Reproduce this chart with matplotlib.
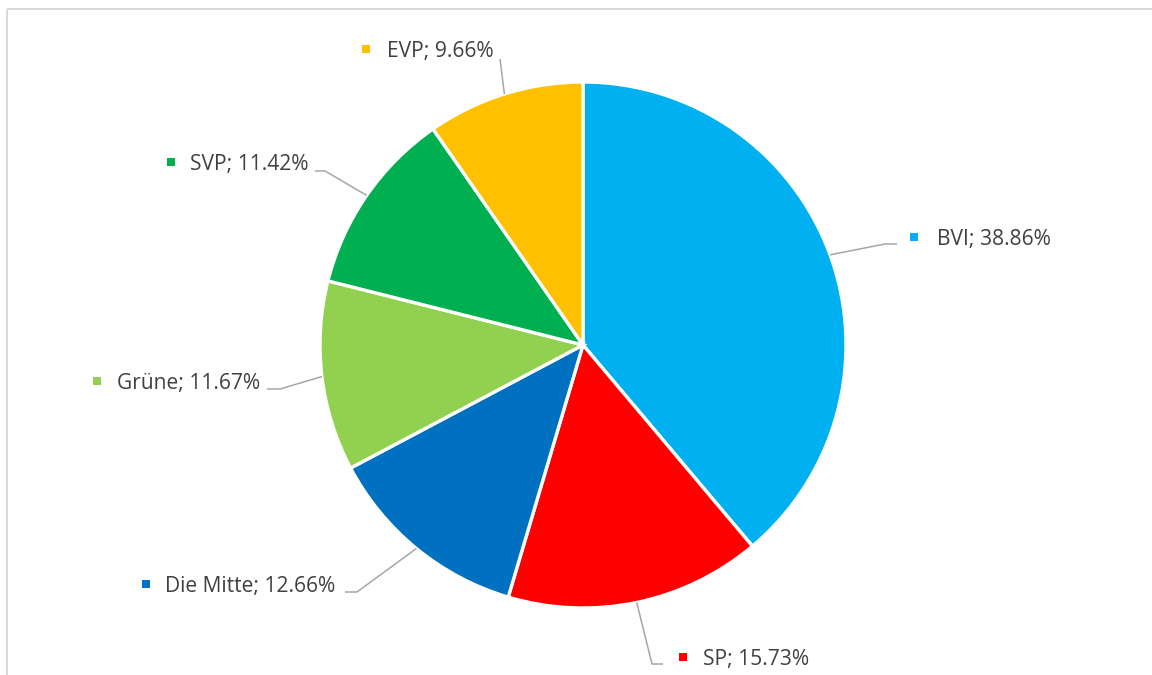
import numpy as np
import matplotlib
matplotlib.use("Agg")
import matplotlib.pyplot as plt

# ---- data ----
parties = ["BVI", "SP", "Die Mitte", "Grüne", "SVP", "EVP"]
shares = [38.86, 15.73, 12.66, 11.67, 11.42, 9.66]
colors = ["#00B0F0", "#FF0000", "#0070C0", "#92D050", "#00B050", "#FFC000"]

W, H = 1152, 675
fig = plt.figure(figsize=(W / 100, H / 100), dpi=100)
ax = fig.add_axes([0, 0, 1, 1])

def Y(y):
    return H - y

cx, cy, R = 583, 345, 263
wedges, _ = ax.pie(shares, colors=colors, startangle=90, counterclock=False,
                   center=(cx, Y(cy)), radius=R,
                   wedgeprops=dict(edgecolor="white", linewidth=2.4))

ax.set_xlim(0, W)
ax.set_ylim(0, H)
ax.set_aspect("equal")
ax.axis("off")

# frame lines (chart area border)
ax.plot([7, W], [Y(9), Y(9)], color="#D9D9D9", lw=1.5, solid_capstyle="butt")
ax.plot([7, 7], [Y(9), 0], color="#D9D9D9", lw=1.5, solid_capstyle="butt")

# label layout (pixel positions): marker center, text x, leader elbow, leader end
layout = {
    "BVI":       dict(m=(914, 237), tx=937, elbow=(885, 244), end=(897, 244)),
    "SP":        dict(m=(683, 657), tx=703, elbow=(652, 664), end=(663, 664)),
    "Die Mitte": dict(m=(146, 584), tx=165, elbow=(357, 592), end=(345, 592)),
    "Grüne":     dict(m=(97, 381),  tx=117, elbow=(280, 389), end=(267, 389)),
    "SVP":       dict(m=(171, 162), tx=190, elbow=(325, 171), end=(315, 171)),
    "EVP":       dict(m=(366, 49),  tx=387, elbow=(500, 59),  end=(500, 59)),
}

cum = 0.0
total = sum(shares)
for name, val, col in zip(parties, shares, colors):
    mid = cum + val / 2
    cum += val
    ang = np.deg2rad(90 - mid / total * 360)
    ex, ey = cx + R * np.cos(ang), Y(cy) + R * np.sin(ang)
    L = layout[name]
    ax.plot([ex, L["elbow"][0], L["end"][0]],
            [ey, Y(L["elbow"][1]), Y(L["end"][1])],
            color="#A6A6A6", lw=1.1, solid_capstyle="butt", zorder=3)
    ax.plot([L["m"][0]], [Y(L["m"][1])], marker="s", markersize=6,
            color=col, markeredgewidth=0, zorder=4)
    ax.text(L["tx"], Y(L["m"][1]), f"{name}; {val:.2f}%",
            fontsize=15.1, family="Open Sans", color="#404040",
            ha="left", va="center_baseline", zorder=4)

fig.savefig("out.png", dpi=100, facecolor="white")
